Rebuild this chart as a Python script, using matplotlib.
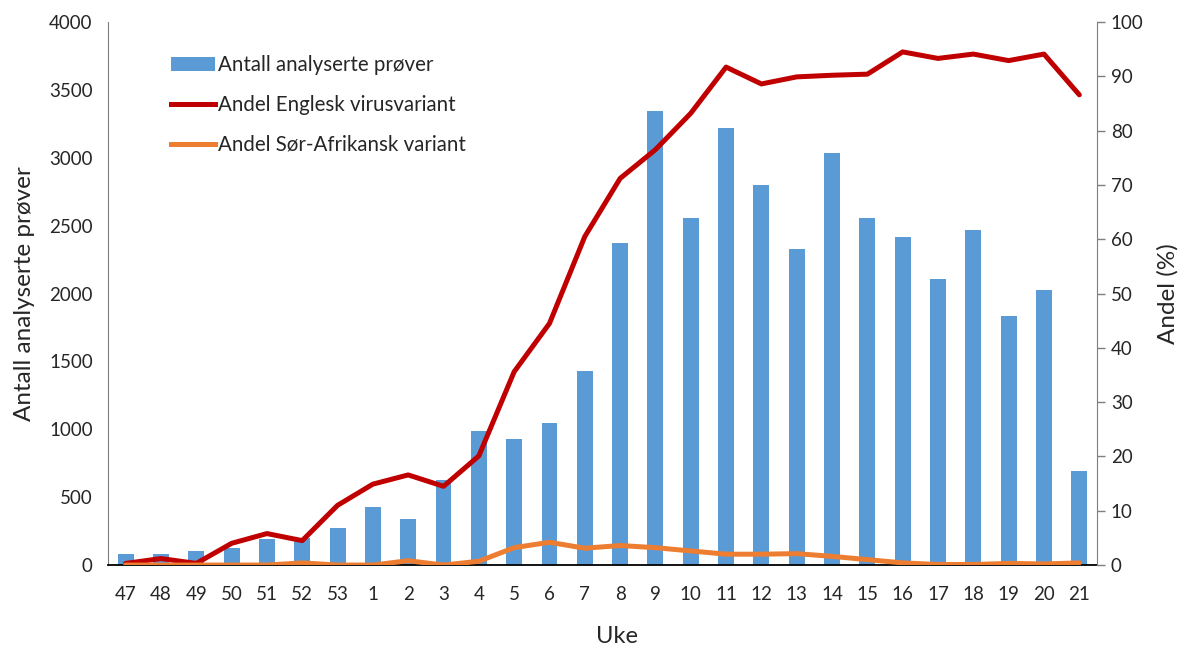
import matplotlib
matplotlib.use("Agg")
import matplotlib.pyplot as plt
from matplotlib.lines import Line2D
from matplotlib.patches import Patch

weeks = ["47", "48", "49", "50", "51", "52", "53", "1", "2", "3", "4", "5", "6", "7",
         "8", "9", "10", "11", "12", "13", "14", "15", "16", "17", "18", "19", "20", "21"]
antall_prover = [81, 85, 105, 128, 190, 196, 270, 425, 340, 626, 987, 926, 1044, 1432,
                 2370, 3348, 2556, 3222, 2800, 2330, 3034, 2556, 2416, 2104, 2470, 1836, 2026, 692]
andel_engelsk = [0.3, 1.2, 0.3, 4.0, 5.8, 4.5, 11.0, 14.9, 16.6, 14.5, 20.1, 35.6, 44.5, 60.5,
                 71.2, 76.5, 83.2, 91.7, 88.6, 89.9, 90.2, 90.4, 94.5, 93.3, 94.1, 92.9, 94.1, 86.6]
andel_sorafrikansk = [0.0, 0.0, 0.0, 0.0, 0.0, 0.4, 0.0, 0.0, 0.8, 0.0, 0.7, 3.2, 4.2, 3.1,
                      3.6, 3.2, 2.6, 2.0, 2.0, 2.1, 1.6, 1.0, 0.4, 0.1, 0.1, 0.3, 0.2, 0.4]

bar_color = "#5B9BD5"
red = "#C00000"
orange = "#ED7D31"
font = ["Lato", "DejaVu Sans"]
plt.rcParams["font.family"] = font
text_color = "#262626"
line_w = 3.6

fig = plt.figure(figsize=(11.93, 6.48), dpi=100)
ax = fig.add_axes([0.0905, 0.128, 0.829, 0.838])
x = list(range(len(weeks)))

ax.bar(x, antall_prover, width=0.45, color=bar_color, zorder=2)
ax.set_xlim(-0.5, len(weeks) - 0.5)
ax.set_ylim(0, 4000)
ax.set_yticks(range(0, 4001, 500))
ax.set_xticks(x)
ax.set_xticklabels(weeks)
ax.tick_params(axis="both", length=0, labelsize=13.5, colors=text_color)
ax.tick_params(axis="x", pad=15)
ax.tick_params(axis="y", pad=11)
ax.spines["top"].set_visible(False)
ax.spines["right"].set_visible(False)
ax.spines["left"].set_color("#7f7f7f")
ax.spines["bottom"].set_color("black")
ax.spines["bottom"].set_linewidth(1.3)
ax.set_ylabel("Antall analyserte prøver", fontsize=17.5, color=text_color, labelpad=10)
ax.set_xlabel("Uke", fontsize=17, color=text_color, labelpad=17)
ax.xaxis.set_label_coords(0.5145, -0.112)

ax2 = ax.twinx()
ax2.plot(x, andel_engelsk, color=red, lw=line_w, solid_joinstyle="round", solid_capstyle="round", zorder=3)
ax2.plot(x, andel_sorafrikansk, color=orange, lw=line_w, solid_joinstyle="round", solid_capstyle="round", zorder=3)
ax2.set_ylim(0, 100)
ax2.set_yticks(range(0, 101, 10))
ax2.tick_params(axis="y", length=6, width=1, color="#7f7f7f", labelsize=13.5, colors=text_color, pad=4)
ax2.tick_params(axis="y", color="#7f7f7f")
for s in ("top", "left", "bottom"):
    ax2.spines[s].set_visible(False)
ax2.spines["right"].set_color("#7f7f7f")
ax2.set_ylabel("Andel (%)", fontsize=17.5, color=text_color, labelpad=10)

handles = [
    Patch(facecolor=bar_color, edgecolor="none", label="Antall analyserte prøver"),
    Line2D([0], [0], color=red, lw=line_w, label="Andel Englesk virusvariant"),
    Line2D([0], [0], color=orange, lw=line_w, label="Andel Sør-Afrikansk variant"),
]
leg = ax.legend(handles=handles, loc="upper left", bbox_to_anchor=(171 / 1193, 1 - 55 / 648),
                bbox_transform=fig.transFigure, frameon=False, fontsize=14.8,
                handlelength=2.15, handletextpad=0.15, labelspacing=0.97, borderpad=0, borderaxespad=0)
for t in leg.get_texts():
    t.set_color(text_color)

fig.savefig("out.png", dpi=100)
